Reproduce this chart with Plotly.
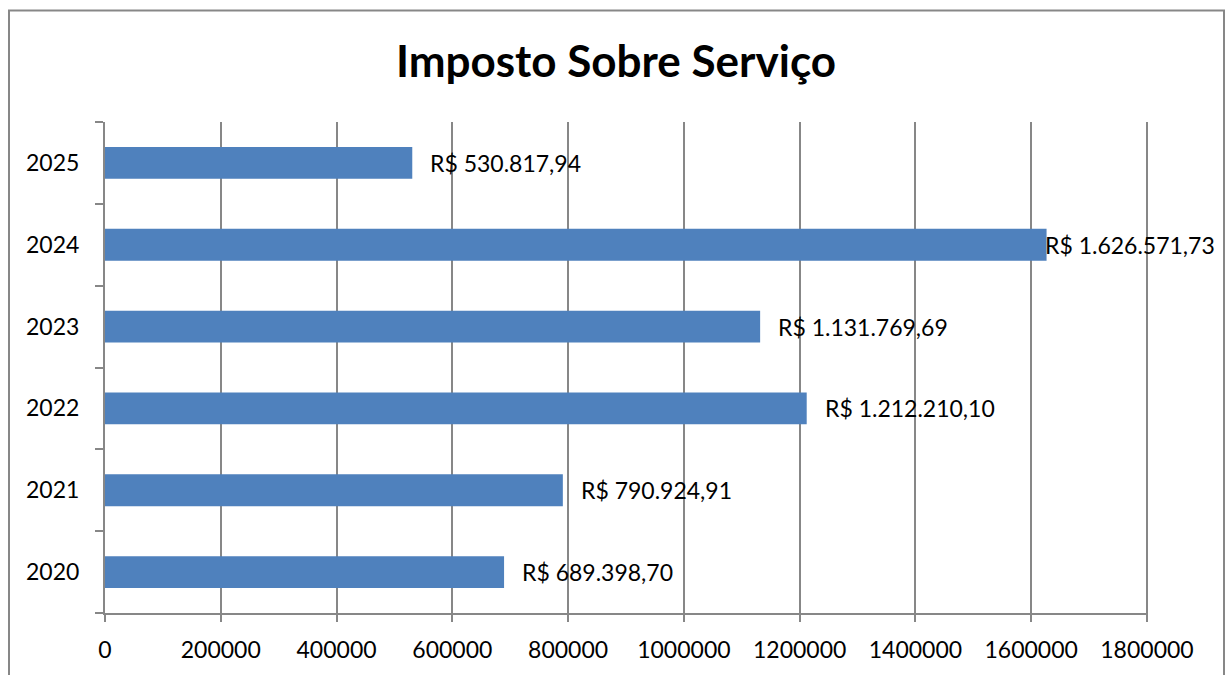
import plotly.graph_objects as go

years = ["2020", "2021", "2022", "2023", "2024", "2025"]
values = [689398.70, 790924.91, 1212210.10, 1131769.69, 1626571.73, 530817.94]
labels = ["R$ 689.398,70", "R$ 790.924,91", "R$ 1.212.210,10",
          "R$ 1.131.769,69", "R$ 1.626.571,73", "R$ 530.817,94"]
x_ticks = [0, 200000, 400000, 600000, 800000, 1000000, 1200000, 1400000, 1600000, 1800000]

FONT = "Lato"
GRID = "#878787"

fig = go.Figure(go.Bar(
    y=years, x=values, orientation="h",
    marker=dict(color="#4F81BD", line=dict(width=0)),
    hoverinfo="skip",
))

for i, (v, t) in enumerate(zip(values, labels)):
    shift = 16 if v < 1500000 else -4
    fig.add_annotation(x=v, y=i, text=t, showarrow=False, xanchor="left",
                       yanchor="middle", xshift=shift,
                       font=dict(family=FONT, size=23, color="#000000"))

L, R, T, B = 105, 84, 122, 60
W, H = 1232, 675
pw, ph = W - L - R, H - T - B

fig.add_shape(type="rect", xref="paper", yref="paper",
              x0=(9 - L) / pw, x1=(1224 - L) / pw,
              y0=(H - B - 690) / ph, y1=(H - B - 10) / ph,
              line=dict(color=GRID, width=2), fillcolor="rgba(0,0,0,0)", layer="below")

fig.update_layout(
    width=W, height=H,
    margin=dict(l=L, r=R, t=T, b=B, pad=0),
    paper_bgcolor="white", plot_bgcolor="white",
    bargap=0.61,
    showlegend=False,
    title=dict(text="<b>Imposto Sobre Serviço</b>", x=0.5, xref="container", xanchor="center",
               y=(H - 62) / H, yanchor="middle", yref="container",
               font=dict(family=FONT, size=44, color="#000000")),
    xaxis=dict(range=[0, x_ticks[-1] * 1.001], tickvals=x_ticks, tickformat="d",
               showgrid=True, gridcolor=GRID, gridwidth=2,
               showline=True, linecolor=GRID, linewidth=2,
               ticks="outside", ticklen=7, tickcolor=GRID, tickwidth=2,
               ticklabelstandoff=8,
               zeroline=False, fixedrange=True,
               tickfont=dict(family=FONT, size=23, color="#000000")),
    yaxis=dict(type="category", categoryorder="array", categoryarray=years,
               range=[-0.5, 5.5],
               showline=True, linecolor=GRID, linewidth=2,
               ticks="outside", ticklen=8, tickcolor=GRID, tickwidth=2,
               tickson="boundaries", showgrid=False, ticklabelstandoff=19,
               fixedrange=True,
               tickfont=dict(family=FONT, size=23, color="#000000")),
)

fig.write_html("out.html", config={"displayModeBar": False},
               post_script="document.body.style.margin='0px';")
